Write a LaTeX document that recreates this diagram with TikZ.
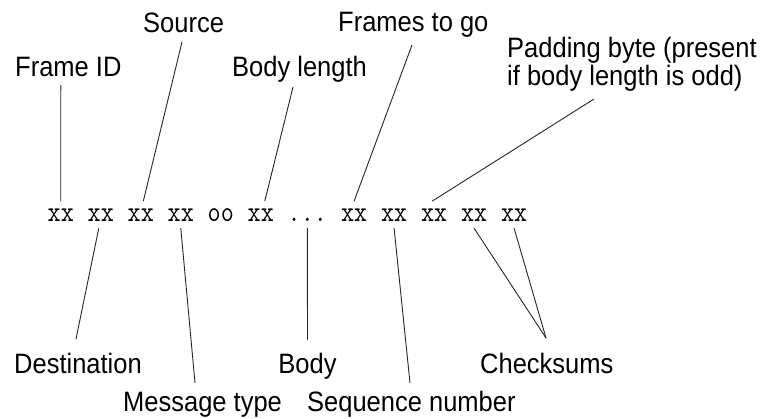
\documentclass[tikz,border=0pt]{standalone}
\usepackage{fontspec}
\setmainfont{Liberation Sans}
\usetikzlibrary{calc}
\newcommand{\tall}[1]{\scalebox{1}[1.1]{#1}}
\newcommand{\ttall}[1]{\scalebox{1}[1.15]{#1}}
\tikzset{
  lbl/.style={anchor=base west, inner sep=0pt, font=\fontsize{25.5}{28}\selectfont},
  byte/.style={anchor=base west, inner xsep=0pt, inner ysep=7pt, font=\ttfamily\fontsize{25.4}{27}\selectfont},
  conn/.style={draw=black!85, line width=0.9pt},
}
\begin{document}
\begin{tikzpicture}[x=1pt, y=-1pt]
\useasboundingbox[fill=white] (0,0) rectangle (765,418);
% byte row
\node[byte] (b1) at (47.5,221) {\ttall{xx}};
\node[byte] (b2) at (87.5,221) {\ttall{xx}};
\node[byte] (b3) at (127.5,221) {\ttall{xx}};
\node[byte] (b4) at (167.5,221) {\ttall{xx}};
\node[byte] (b5) at (207.5,221) {\ttall{oo}};
\node[byte] (b6) at (247.5,221) {\ttall{xx}};
\node[byte] (dots) at (287.5,221) {\ttall{...}};
\node[byte] (b8) at (340.8,221) {\ttall{xx}};
\node[byte] (b9) at (380.8,221) {\ttall{xx}};
\node[byte] (b10) at (420.8,221) {\ttall{xx}};
\node[byte] (b11) at (460.8,221) {\ttall{xx}};
\node[byte] (b12) at (500.8,221) {\ttall{xx}};
% top labels
\node[lbl] (frameid) at (15,76) {\tall{Frame ID}};
\node[lbl] (source) at (143,32) {\tall{Source}};
\node[lbl] (bodylen) at (232,76) {\tall{Body length}};
\node[lbl] (frames) at (338,31) {\tall{Frames to go}};
\node[lbl, anchor=north west, align=left] (padding) at (507,36.5) {\tall{Padding byte (present}\\\tall{if body length is odd)}};
% bottom labels
\node[lbl] (dest) at (14,373) {\tall{Destination}};
\node[lbl, anchor=base] (body) at (307.5,373) {\tall{Body}};
\node[lbl] (checks) at (480,373) {\tall{Checksums}};
\node[lbl] (msgtype) at (123,411) {\tall{Message type}};
\node[lbl] (seqnum) at (307,411) {\tall{Sequence number}};
% connector ends near labels
\coordinate (cFid) at (60.8,85);
\coordinate (cSrc) at (182,42);
\coordinate (cBlen) at (293,87);
\coordinate (cFrm) at (412,45);
\coordinate (cPad) at (594,99);
\coordinate (cDest) at (76,339);
\coordinate (cMsg) at (195,383);
\coordinate (cBody) at (307.5,340);
\coordinate (cSeq) at (410,383);
\coordinate (cChk) at (546,338);
% connectors
\draw[conn] (cFid) -- (b1.north);
\draw[conn] (cSrc) -- ($(b3.north)+(2.5,0)$);
\draw[conn] (cBlen) -- ($(b6.north)+(4,0)$);
\draw[conn] (cFrm) -- (b8.north);
\draw[conn] (cPad) -- ($(b10.north)+(-2,0)$);
\draw[conn] ($(b2.south)+(-2,0)$) -- (cDest);
\draw[conn] (b4.south) -- (cMsg);
\draw[conn] (dots.south) -- (cBody);
\draw[conn] (b9.south) -- (cSeq);
\draw[conn] (b11.south) -- (cChk);
\draw[conn] (b12.south) -- (cChk);
\end{tikzpicture}
\end{document}
